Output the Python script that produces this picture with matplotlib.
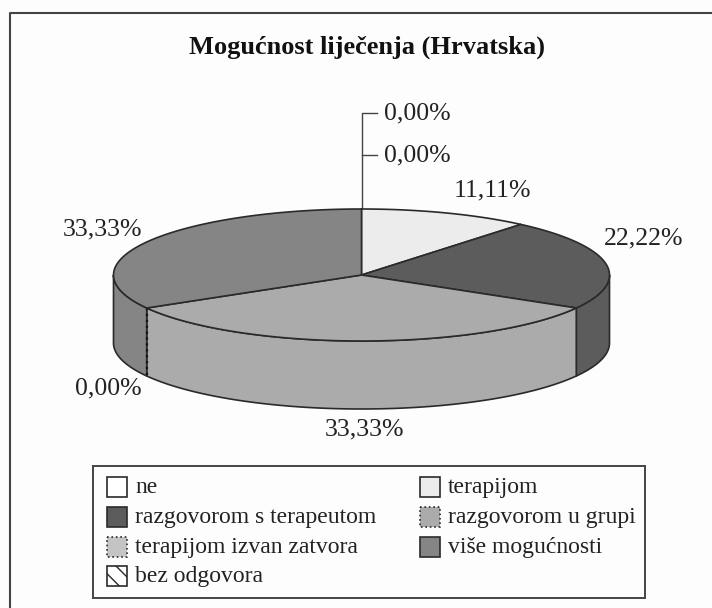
import numpy as np
import matplotlib
matplotlib.use("Agg")
import matplotlib.pyplot as plt
from matplotlib.patches import Polygon, Rectangle

categories = ["ne", "terapijom", "razgovorom s terapeutom", "razgovorom u grupi",
              "terapijom izvan zatvora", "više mogućnosti", "bez odgovora"]
values = [0.0, 11.11, 22.22, 33.33, 0.0, 33.33, 0.0]
value_labels = ["0,00%", "11,11%", "22,22%", "33,33%", "0,00%", "33,33%", "0,00%"]
colors = ["#ffffff", "#ececec", "#5c5c5c", "#ababab", "#c4c4c4", "#858585", "#ffffff"]

plt.rcParams["font.family"] = ["Liberation Serif", "DejaVu Serif"]

W, H = 712, 608
CX, CY, RX, RY, DEPTH = 361.5, 275, 248, 66, 68
EDGE = "#2a2a2a"
TEXT = "#222222"


def rim(a0, a1, n=80):
    """Points on the top ellipse, angle in degrees clockwise from the top."""
    t = np.radians(np.linspace(a0, a1, n))
    return np.column_stack([CX + RX * np.sin(t), CY - RY * np.cos(t)])


fig = plt.figure(figsize=(W / 100, H / 100), dpi=100, facecolor="#fdfdfd")
ax = fig.add_axes([0, 0, 1, 1])
ax.set_xlim(0, W)
ax.set_ylim(H, 0)
ax.axis("off")

# only the left and top edge of the outer frame are on the scan
ax.plot([10, 10, W], [H, 12.5, 12.5], color="#444444", lw=1.5)
ax.text(367, 47, "Mogućnost liječenja (Hrvatska)", ha="center", va="center",
        fontsize=19, fontweight="bold", color="#111111")

# slices, clockwise from 12 o'clock
ends = np.cumsum(values) / np.sum(values) * 360
starts = np.concatenate([[0], ends[:-1]])

# walls first, only the front half of the ellipse shows
for a0, a1, c, v in zip(starts, ends, colors, values):
    lo, hi = max(a0, 90), min(a1, 270)
    if v == 0 or hi <= lo:
        continue
    top = rim(lo, hi)
    bottom = top[::-1] + [0, DEPTH]
    ax.add_patch(Polygon(np.vstack([top, bottom]), fc=c, ec=EDGE, lw=1.2, zorder=2))

# an empty slice on the front shows up as a dotted seam in the wall
for a0, v in zip(starts, values):
    if v == 0 and 90 < a0 < 270:
        p = rim(a0, a0, 1)[0]
        ax.plot([p[0], p[0]], [p[1], p[1] + DEPTH], color="#111111", lw=1.6, ls=":", zorder=2.5)

for a0, a1, c, v in zip(starts, ends, colors, values):
    if v == 0:
        continue
    pts = np.vstack([[[CX, CY]], rim(a0, a1)])
    ax.add_patch(Polygon(pts, fc=c, ec=EDGE, lw=1.2, zorder=3))

# labels for the slices
label_pos = [(417.5, 113), (492, 190), (644, 238), (364, 429), (108, 388), (102, 229), (417.5, 155)]
for (x, y), s in zip(label_pos, value_labels):
    ax.text(x, y, s, ha="center", va="center", fontsize=18.5, color=TEXT)

# leader for the two empty slices at the top
ax.plot([377, 362, 362], [113, 113, 209], color="#444444", lw=1, zorder=1)
ax.plot([362, 377], [155, 155], color="#444444", lw=1, zorder=1)

# legend
ax.add_patch(Rectangle((93, 466), 552, 132, fc="none", ec="#444444", lw=1.4))
rows = [487, 517, 547, 576]
slots = [(0, 0), (1, 0), (0, 1), (1, 1), (0, 2), (1, 2), (0, 3)]
col_x = [107, 420]
for (col, row), name, c in zip(slots, categories, colors):
    x, y = col_x[col], rows[row]
    hatch = "\\\\" if name == "bez odgovora" else None
    ls = ":" if name in ("razgovorom u grupi", "terapijom izvan zatvora") else "-"
    ax.add_patch(Rectangle((x, y - 10), 20, 20, fc=c, ec=EDGE, lw=1.2, hatch=hatch, ls=ls))
    ax.text(x + 28, y + 6, name, ha="left", va="baseline", fontsize=17, color=TEXT)

fig.savefig("out.png", dpi=100, facecolor=fig.get_facecolor())
